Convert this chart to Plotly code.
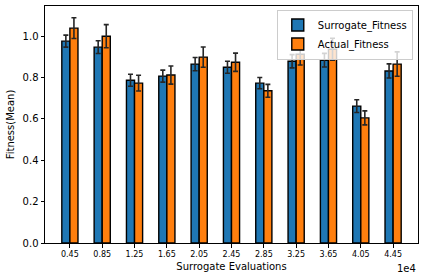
import plotly.graph_objects as go

categories = ["0.45", "0.85", "1.25", "1.65", "2.05", "2.45", "2.85", "3.25", "3.65", "4.05", "4.45"]
surrogate_mean = [0.976, 0.947, 0.787, 0.807, 0.865, 0.850, 0.773, 0.879, 0.884, 0.662, 0.832]
surrogate_err = [0.029, 0.031, 0.029, 0.029, 0.032, 0.029, 0.027, 0.032, 0.033, 0.031, 0.034]
actual_mean = [1.039, 1.000, 0.773, 0.812, 0.899, 0.874, 0.736, 0.913, 0.937, 0.605, 0.865]
actual_err = [0.050, 0.056, 0.038, 0.044, 0.049, 0.044, 0.031, 0.052, 0.053, 0.034, 0.059]
y_ticks = [0.0, 0.2, 0.4, 0.6, 0.8, 1.0]

font = "DejaVu Sans"
err_style = dict(type="data", color="#262626", thickness=1.6, width=2.5, visible=True)

fig = go.Figure()
fig.add_trace(go.Bar(
    x=categories, y=surrogate_mean, name="Surrogate_Fitness",
    marker=dict(color="#1f77b4", line=dict(color="black", width=1.4)),
    error_y=dict(array=surrogate_err, **err_style),
))
fig.add_trace(go.Bar(
    x=categories, y=actual_mean, name="Actual_Fitness",
    marker=dict(color="#ff7f0e", line=dict(color="black", width=1.4)),
    error_y=dict(array=actual_err, **err_style),
))

fig.update_layout(
    width=424, height=280,
    margin=dict(l=45, r=6, t=6, b=37, autoexpand=False),
    barmode="group", bargap=0.5, bargroupgap=0,
    plot_bgcolor="white", paper_bgcolor="white",
    font=dict(family=font, size=10, color="black"),
    legend=dict(
        x=0.986, y=0.985, xanchor="right", yanchor="top",
        bgcolor="rgba(255,255,255,0.8)", bordercolor="#cccccc", borderwidth=1,
        font=dict(size=10), itemwidth=30, tracegroupgap=0,
    ),
)
fig.update_xaxes(
    type="category", range=[-0.77, 10.77], automargin=False,
    showline=True, linecolor="black", linewidth=1, mirror=True,
    ticks="outside", ticklen=3.5, tickcolor="black",
    tickfont=dict(size=8), showgrid=False,
    title=dict(text="Surrogate Evaluations", font=dict(size=10), standoff=4),
)
fig.update_yaxes(
    range=[0, 1.146], tickvals=y_ticks, ticktext=[f"{v:.1f}" for v in y_ticks],
    automargin=False,
    showline=True, linecolor="black", linewidth=1, mirror=True,
    ticks="outside", ticklen=3.5, tickcolor="black",
    tickfont=dict(size=10), showgrid=False, zeroline=False,
    title=dict(text="Fitness(Mean)", font=dict(size=10), standoff=6),
)
fig.add_annotation(
    text="1e4", xref="paper", yref="paper", x=1.0, y=0, yshift=-18, xanchor="right", yanchor="top",
    showarrow=False, font=dict(size=10),
)
fig.write_html("out.html", config={"displayModeBar": False},
               post_script="document.body.style.margin='0px';")
